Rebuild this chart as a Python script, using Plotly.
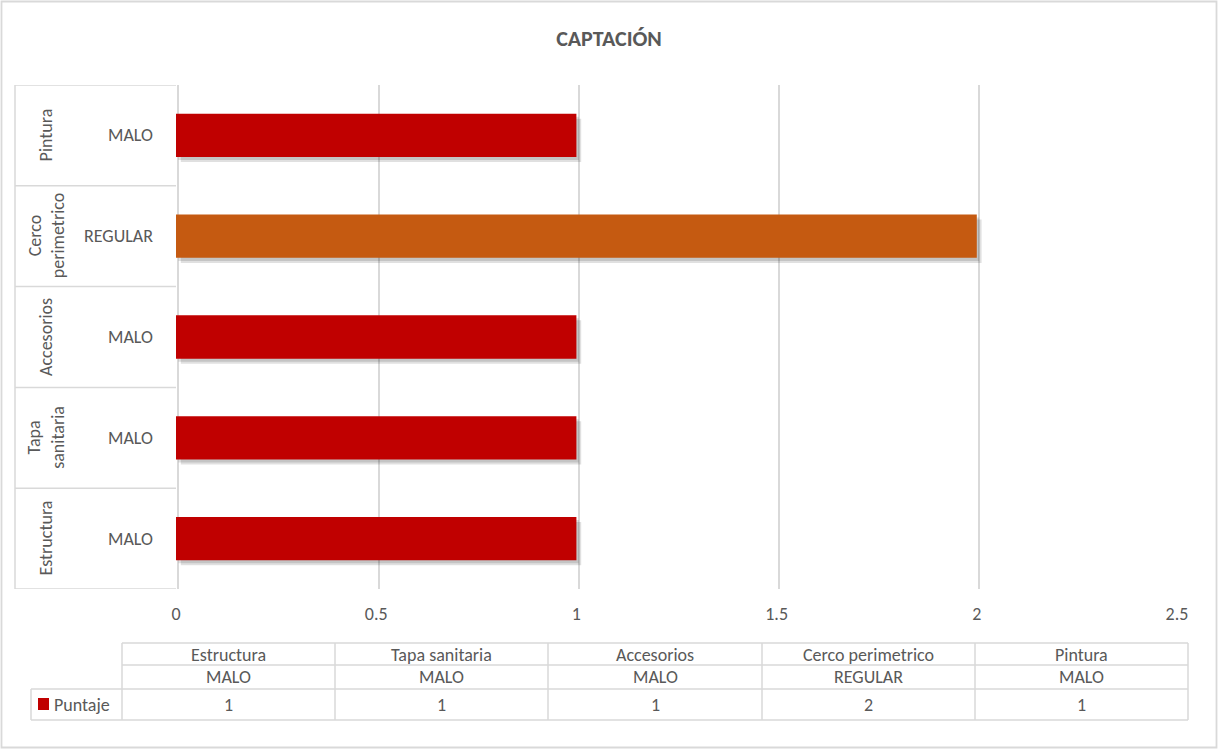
import plotly.graph_objects as go

# ---- data ----
categories = ["Estructura", "Tapa sanitaria", "Accesorios", "Cerco perimetrico", "Pintura"]
cat_labels = ["Estructura", "Tapa<br>sanitaria", "Accesorios", "Cerco<br>perimetrico", "Pintura"]
ratings = ["MALO", "MALO", "MALO", "REGULAR", "MALO"]
values = [1, 1, 1, 2, 1]
series_name = "Puntaje"
x_ticks = [0, 0.5, 1, 1.5, 2, 2.5]
x_tick_text = ["0", "0.5", "1", "1.5", "2", "2.5"]
color_map = {"MALO": "#C00000", "REGULAR": "#C55A11"}

W, H = 1218, 749
FONT = "Carlito, Calibri, 'Liberation Sans', sans-serif"
TXT = "#595959"
LINE = "#D9D9D9"
FS = 18

def px(x):
    return x / W

def py(y):
    return 1 - y / H

ypos = list(range(len(categories)))
bar_colors = [color_map[r] for r in ratings]

fig = go.Figure()

# soft shadow layers (lower-numbered axes are drawn first, underneath)
for ax, ay in (("x", "y"), ("x2", "y2")):
    fig.add_trace(go.Bar(
        x=values, y=ypos, orientation="h", width=0.43,
        marker=dict(color="rgba(0,0,0,0.12)", line=dict(width=0)),
        xaxis=ax, yaxis=ay, hoverinfo="skip", showlegend=False,
    ))
# real bars on the top overlay axes
fig.add_trace(go.Bar(
    x=values, y=ypos, orientation="h", width=0.43, name=series_name,
    marker=dict(color=bar_colors, line=dict(width=0)),
    xaxis="x3", yaxis="y3", showlegend=False,
))

x0p, x1p = px(176), px(1177)
y_bot, y_top = py(589), py(85)

shapes = []
annotations = []

# left category panel lines
for i in range(len(categories) + 1):
    shapes.append(dict(type="line", xref="paper", yref="y3", x0=px(15), x1=px(176),
                       y0=i - 0.5, y1=i - 0.5, line=dict(color=LINE, width=1.5)))
shapes.append(dict(type="line", xref="paper", yref="y3", x0=px(15), x1=px(15),
                   y0=-0.5, y1=len(categories) - 0.5, line=dict(color=LINE, width=1.5)))

for i, (lab, r) in enumerate(zip(cat_labels, ratings)):
    annotations.append(dict(text=lab, xref="paper", yref="y3", x=px(46), y=i, textangle=-90,
                            showarrow=False, font=dict(family=FONT, size=FS, color=TXT),
                            xanchor="center", yanchor="middle"))
    annotations.append(dict(text=r, xref="paper", yref="y3", x=px(155), y=i,
                            showarrow=False, font=dict(family=FONT, size=FS, color=TXT),
                            xanchor="right", yanchor="middle"))

# data table
col_edges = [122, 335, 548, 762, 975, 1188]
row_edges = [643, 665, 689, 720]
for yy in row_edges[:2]:
    shapes.append(dict(type="line", xref="paper", yref="paper", x0=px(122), x1=px(1188),
                       y0=py(yy), y1=py(yy), line=dict(color=LINE, width=1.5)))
for yy in row_edges[2:]:
    shapes.append(dict(type="line", xref="paper", yref="paper", x0=px(31), x1=px(1188),
                       y0=py(yy), y1=py(yy), line=dict(color=LINE, width=1.5)))
for xx in col_edges:
    shapes.append(dict(type="line", xref="paper", yref="paper", x0=px(xx), x1=px(xx),
                       y0=py(643), y1=py(720), line=dict(color=LINE, width=1.5)))
shapes.append(dict(type="line", xref="paper", yref="paper", x0=px(31), x1=px(31),
                   y0=py(689), y1=py(720), line=dict(color=LINE, width=1.5)))

for j, (c, r, v) in enumerate(zip(categories, ratings, values)):
    cx = px((col_edges[j] + col_edges[j + 1]) / 2)
    for txt, yc in ((c, 655), (r, 677), (str(v), 705)):
        annotations.append(dict(text=txt, xref="paper", yref="paper", x=cx, y=py(yc),
                                showarrow=False, font=dict(family=FONT, size=FS, color=TXT),
                                xanchor="center", yanchor="middle"))
# legend key in table
shapes.append(dict(type="rect", xref="paper", yref="paper", x0=px(38), x1=px(49),
                   y0=py(710), y1=py(698), fillcolor=color_map["MALO"], line=dict(width=0)))
annotations.append(dict(text=series_name, xref="paper", yref="paper", x=px(52), y=py(705),
                        showarrow=False, font=dict(family=FONT, size=FS, color=TXT),
                        xanchor="left", yanchor="middle"))

# outer border
shapes.append(dict(type="rect", xref="paper", yref="paper", x0=px(1.5), x1=px(1216.5),
                   y0=py(747.5), y1=py(1.5), line=dict(color=LINE, width=1.8), layer="below"))

hidden = dict(showgrid=False, zeroline=False, showline=False, showticklabels=False, fixedrange=True)
ny = len(categories)

fig.update_layout(
    width=W, height=H,
    margin=dict(l=0, r=0, t=0, b=0, autoexpand=False),
    paper_bgcolor="white", plot_bgcolor="white",
    title=dict(text="<b>CAPTACIÓN</b>", x=0.5, xanchor="center", y=py(38), yanchor="middle",
               font=dict(family=FONT, size=22, color=TXT)),
    barmode="overlay",
    xaxis=dict(domain=[x0p, x1p], range=[-0.006, 2.494], tickvals=x_ticks, ticktext=x_tick_text,
               showgrid=True, gridcolor=LINE, gridwidth=1.5, zeroline=False, showline=False,
               showticklabels=False, fixedrange=True),
    yaxis=dict(domain=[y_bot, y_top], range=[-0.5 + 0.03, ny - 0.5 + 0.03], **hidden),
    xaxis2=dict(domain=[x0p, x1p], range=[-0.012, 2.488], overlaying="x", anchor="y2", **hidden),
    yaxis2=dict(domain=[y_bot, y_top], range=[-0.5 + 0.05, ny - 0.5 + 0.05], overlaying="y",
                anchor="x2", **hidden),
    xaxis3=dict(domain=[x0p, x1p], range=[0, 2.5], overlaying="x", anchor="y3",
                tickvals=x_ticks, ticktext=x_tick_text, showgrid=False,
                zeroline=False, showline=False, ticks="", ticklen=0, ticklabelstandoff=12,
                tickfont=dict(family=FONT, size=FS, color=TXT), fixedrange=True),
    yaxis3=dict(domain=[y_bot, y_top], range=[-0.5, ny - 0.5], overlaying="y",
                anchor="x3", **hidden),
    shapes=shapes,
    annotations=annotations,
    showlegend=False,
)

fig.write_html("out.html")
